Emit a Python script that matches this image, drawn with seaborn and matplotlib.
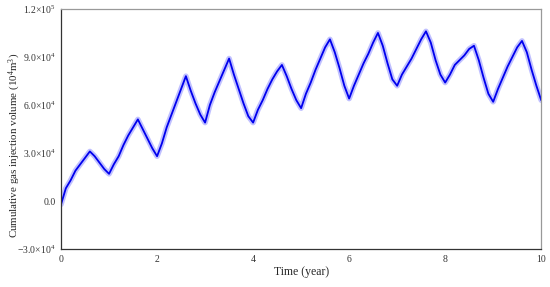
"""Cumulative gas injection volume over ten years."""
import matplotlib
matplotlib.use("Agg")
import numpy as np
import pandas as pd
import matplotlib.pyplot as plt
import seaborn as sns

# time in years, sampled every 0.1 year
time_year = [round(0.1 * i, 1) for i in range(101)]

# cumulative injection volume (m^3 x 10^4 units as plotted)
volume = [
    -2000, 8000, 13000, 19000, 23000, 27000, 31000, 28000, 24000, 20000,
    17000, 23000, 28000, 35000, 41000, 46000, 51000, 45000, 39000, 33000,
    28000, 36000, 46000, 54000, 62000, 70000, 78000, 69000, 61000, 54000,
    49000, 60000, 68000, 75000, 82000, 89000, 79000, 70000, 61000, 53000,
    49000, 57000, 63000, 70000, 76000, 81000, 85000, 78000, 70000, 63000,
    58000, 67000, 74000, 82000, 89000, 96000, 101000, 93000, 83000, 72000,
    64000, 72000, 79000, 86000, 92000, 99000, 105000, 97000, 86000, 76000,
    72000, 79000, 84000, 89000, 95000, 101000, 106000, 99000, 88000, 79000,
    74000, 79000, 85000, 88000, 91000, 95000, 97000, 88000, 77000, 67000,
    62000, 70000, 77000, 84000, 90000, 96000, 100000, 93000, 82000, 72000,
    63000,
]

xticks = [0, 2, 4, 6, 8, 10]
yticks = [-30000, 0, 30000, 60000, 90000, 120000]
ytick_labels = [r"$-3.0{\times}10^4$", "0.0", r"$3.0{\times}10^4$",
                r"$6.0{\times}10^4$", r"$9.0{\times}10^4$", r"$1.2{\times}10^5$"]

sns.set_style("white")
plt.rcParams["font.family"] = ["Liberation Serif", "DejaVu Serif"]
plt.rcParams["mathtext.fontset"] = "custom"
plt.rcParams["mathtext.rm"] = "Liberation Serif"
plt.rcParams["mathtext.it"] = "Liberation Serif:italic"

df = pd.DataFrame({"t": time_year, "v": volume})

fig = plt.figure(figsize=(5.5, 2.87), dpi=100)
ax = fig.add_axes([0.111, 0.132, 0.873, 0.837])

# soft wide stroke to suggest the noisy band, then the main trace
sns.lineplot(data=df, x="t", y="v", ax=ax, color="#3030ff", lw=4.0, alpha=0.3)
sns.lineplot(data=df, x="t", y="v", ax=ax, color="#0000ee", lw=1.3)

ax.set_xlim(0, 10)
ax.set_ylim(-30000, 120000)
ax.set_xticks(xticks)
ax.set_xticklabels([str(x) for x in xticks])
ax.set_yticks(yticks)
ax.set_yticklabels(ytick_labels)
ax.tick_params(direction="in", length=3, width=0.8, labelsize=7,
               colors="#333333", pad=4)
ax.set_xlabel("Time (year)", fontsize=8.5)
ax.xaxis.set_label_coords(0.5, -0.07)
ax.set_ylabel(r"Cumulative gas injection volume (10$^4$m$^3$)", fontsize=7.9)
ax.yaxis.set_label_coords(-0.08, 0.43)

for side in ("left", "bottom"):
    ax.spines[side].set_color("#333333")
    ax.spines[side].set_linewidth(0.9)
for side in ("top", "right"):
    ax.spines[side].set_color("#999999")
    ax.spines[side].set_linewidth(0.9)

fig.savefig("out.png", dpi=100)
plt.close(fig)
